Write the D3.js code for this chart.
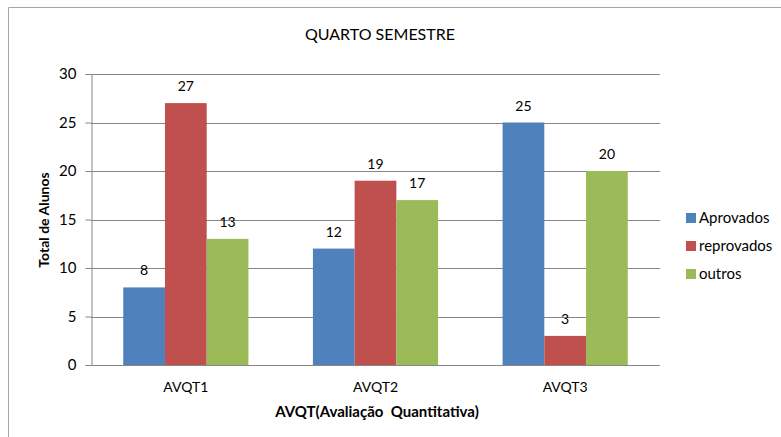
<!DOCTYPE html>
<html>
<head>
<meta charset="utf-8">
<script src="https://cdn.jsdelivr.net/npm/d3@7"></script>
<style>
  body { margin: 0; background: #fff; }
  svg { display: block; font-family: Lato, "Open Sans", sans-serif; }
</style>
</head>
<body>
<div id="chart"></div>
<script>
// Data
const categories = ["AVQT1", "AVQT2", "AVQT3"];
const seriesNames = ["Aprovados", "reprovados", "outros"];
const aprovados = [8, 12, 25];
const reprovados = [27, 19, 3];
const outros = [13, 17, 20];
const yTicks = [0, 5, 10, 15, 20, 25, 30];

const seriesValues = [aprovados, reprovados, outros];
const colorList = ["#4F81BD", "#C0504D", "#9BBB59"];

const width = 781, height = 437;
const margins = {top: 74, right: 121, bottom: 72, left: 91};

const svg = d3.select("#chart")
  .append("svg")
  .attr("width", width)
  .attr("height", height);

/* Outer chart frame (only top and left visible) */
svg.append("path")
  .attr("d", `M8.5,${height} V7.5 H${width}`)
  .attr("fill", "none")
  .attr("stroke", "#a6a6a6");

/* Scales */
const xScale = d3.scaleBand()
  .domain(categories)
  .range([margins.left, width - margins.right])
  .paddingInner(0.34)
  .paddingOuter(0.17);

const xInner = d3.scaleBand()
  .domain(seriesNames)
  .range([0, xScale.bandwidth()]);

const yScale = d3.scaleLinear()
  .domain([0, 30])
  .range([height - margins.bottom, margins.top]);

const colors = d3.scaleOrdinal()
  .domain(seriesNames)
  .range(colorList);

/* Gridlines */
svg.append("g")
  .selectAll("line")
  .data(yTicks.filter(d => d > 0))
  .join("line")
    .attr("x1", margins.left)
    .attr("x2", width - margins.right)
    .attr("y1", d => Math.round(yScale(d)) + 0.5)
    .attr("y2", d => Math.round(yScale(d)) + 0.5)
    .attr("stroke", "#868686");

/* Bars */
const rows = categories.map((c, i) => ({
  category: c,
  values: seriesNames.map((s, j) => ({series: s, value: seriesValues[j][i]}))
}));

const groups = svg.append("g")
  .selectAll("g")
  .data(rows)
  .join("g")
    .attr("transform", d => `translate(${xScale(d.category)},0)`);

groups.selectAll("rect")
  .data(d => d.values)
  .join("rect")
    .attr("x", d => xInner(d.series))
    .attr("y", d => yScale(d.value))
    .attr("width", xInner.bandwidth())
    .attr("height", d => yScale(0) - yScale(d.value))
    .attr("fill", d => colors(d.series));

/* Value labels */
groups.selectAll("text")
  .data(d => d.values)
  .join("text")
    .attr("x", d => xInner(d.series) + xInner.bandwidth() / 2)
    .attr("y", d => yScale(d.value) - 12)
    .attr("text-anchor", "middle")
    .style("font-size", "14px")
    .style("fill", "#000")
    .text(d => d.value);

/* Y axis */
const yAxis = d3.axisLeft(yScale)
  .tickValues(yTicks)
  .tickSize(6)
  .tickPadding(9);

svg.append("g")
  .attr("transform", `translate(${margins.left + 0.5},0)`)
  .call(yAxis)
  .call(g => g.selectAll("path, line").attr("stroke", "#868686"))
  .call(g => g.selectAll("text")
    .style("font-size", "15px")
    .style("font-family", "Lato, sans-serif")
    .attr("fill", "#000"));

/* X axis */
const xAxis = d3.axisBottom(xScale).tickSize(0).tickPadding(17);

svg.append("g")
  .attr("transform", `translate(0,${yScale(0) + 0.5})`)
  .call(xAxis)
  .call(g => g.select(".domain")
    .attr("d", `M${margins.left},0H${width - margins.right}`)
    .attr("stroke", "#868686"))
  .call(g => g.selectAll("text")
    .style("font-size", "14px")
    .style("font-family", "Lato, sans-serif")
    .attr("fill", "#000"));

/* Title and axis titles */
svg.append("text")
  .attr("x", 380)
  .attr("y", 40)
  .attr("text-anchor", "middle")
  .style("font-size", "16px")
  .text("QUARTO SEMESTRE");

svg.append("text")
  .attr("x", 377)
  .attr("y", 417)
  .attr("text-anchor", "middle")
  .style("font-size", "15px")
  .style("font-weight", "bold")
  .style("white-space", "pre")
  .text("AVQT(Avaliação  Quantitativa)");

svg.append("text")
  .attr("transform", "translate(49,220) rotate(-90)")
  .attr("text-anchor", "middle")
  .style("font-size", "14px")
  .style("font-weight", "bold")
  .text("Total de Alunos");

/* Legend */
const legend = svg.append("g")
  .selectAll("g")
  .data(seriesNames)
  .join("g")
    .attr("transform", (d, i) => `translate(686,${218 + i * 28})`);

legend.append("rect")
  .attr("x", 0)
  .attr("y", -5)
  .attr("width", 10)
  .attr("height", 10)
  .attr("fill", d => colors(d));

legend.append("text")
  .attr("x", 13)
  .attr("dy", "0.35em")
  .style("font-size", "15px")
  .text(d => d);
</script>
</body>
</html>
